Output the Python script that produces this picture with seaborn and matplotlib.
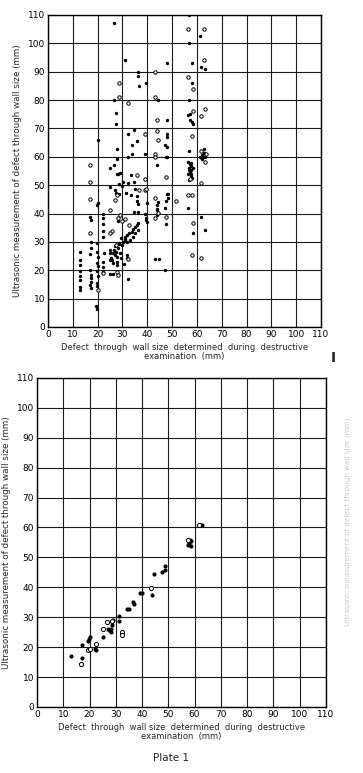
import numpy as np
import pandas as pd
import matplotlib.pyplot as plt
import seaborn as sns

# --- upper plot: all results (filled = one series, open = other) ---
top_filled_x = [26.7, 57.0, 61.3, 57.0, 30.9, 48.0, 58.2, 61.6, 63.4, 36.2, 36.4, 39.4, 36.5,
                58.2, 26.8, 44.2, 57.0, 27.4, 27.4, 48.1, 56.6, 57.2, 57.3, 57.9, 58.3,
                20.2, 32.1, 34.5, 35.9, 33.7, 27.9, 48.1, 48.1, 47.0, 47.8, 57.0,
                27.9, 32.1, 33.8, 39.2, 47.5, 48.1, 63.0, 61.3, 62.0, 62.8, 63.4, 62.2, 62.6,
                25.1, 26.8, 27.9, 28.3, 44.1, 33.3, 29.0,
                56.6, 57.2, 57.5, 56.8, 57.8, 57.2, 56.6, 57.5, 58.0, 57.0, 57.8, 58.3, 56.9, 57.6,
                25.1, 28.6, 27.0, 27.6, 28.6, 31.3, 33.5, 34.7, 32.4, 30.4, 36.0, 34.9, 29.8,
                19.9, 20.3, 35.8, 36.2, 39.8, 44.2, 44.1, 43.9, 47.0, 47.8, 48.3, 47.5, 48.2,
                56.6, 61.8, 63.2, 58.3, 47.2, 43.1, 44.6, 47.6, 44.0, 44.0,
                39.1, 39.3, 39.6, 39.8, 36.4, 34.5,
                13.1, 13.1, 13.1, 13.1, 13.1, 13.1, 13.1, 13.1,
                17.0, 17.2, 17.3, 17.5, 17.1, 17.0, 17.3, 17.2, 17.5, 17.0, 17.4,
                19.6, 19.8, 20.2, 19.7, 20.0, 19.9, 20.2, 19.6, 19.8, 19.5, 19.6,
                22.3, 22.1, 22.3, 22.2, 22.3, 22.4, 22.1, 22.3, 22.2,
                25.0, 25.3, 25.7, 26.3, 26.6, 27.0, 27.4, 27.7, 27.9, 28.3, 28.8, 29.0, 29.3,
                29.7, 30.4, 31.0, 31.7, 31.9, 26.1, 27.1, 28.0, 28.5,
                31.0, 32.0, 32.8, 33.7, 34.4, 35.1, 35.8, 36.2, 36.4, 33.1, 31.7, 34.2, 35.2,
                30.6, 32.3, 25.1, 26.3, 25.1, 25.1, 28.3, 30.9, 29.5]
top_filled_y = [107.2, 110.0, 102.6, 100.0, 94.0, 93.0, 93.0, 91.5, 91.0, 88.5, 90.0, 86.0, 85.0,
                86.0, 80.0, 80.0, 80.0, 75.4, 71.4, 73.0, 74.8, 75.0, 73.0, 72.2, 71.4,
                66.0, 68.0, 69.4, 65.5, 64.1, 62.6, 68.0, 67.0, 64.0, 63.3, 62.0,
                59.4, 60.1, 61.0, 61.0, 60.0, 60.0, 62.8, 60.0, 60.5, 61.2, 60.0, 59.3, 59.8,
                56.1, 57.0, 53.9, 54.1, 57.0, 53.5, 54.2,
                58.3, 57.5, 56.8, 56.0, 55.5, 54.8, 54.0, 53.3, 52.5, 51.8, 57.8, 56.2, 55.2, 53.9,
                49.4, 50.3, 48.2, 47.4, 47.0, 47.4, 46.5, 51.2, 50.6, 51.2, 46.1, 48.5, 49.8,
                43.0, 43.6, 44.5, 43.5, 43.8, 44.2, 43.0, 41.6, 42.0, 47.0, 45.5, 44.4, 46.8,
                42.0, 38.8, 34.1, 33.2, 20.0, 24.0, 24.0, 36.2, 41.3, 39.5,
                40.0, 38.3, 37.7, 37.0, 40.6, 40.6,
                26.6, 23.6, 21.9, 19.9, 18.1, 16.6, 14.2, 13.0,
                38.9, 37.7, 30.1, 27.8, 25.7, 20.1, 18.3, 17.2, 16.0, 14.8, 13.6,
                29.5, 26.6, 24.6, 22.6, 21.4, 19.6, 17.8, 15.5, 14.3, 7.4, 6.5,
                39.8, 38.3, 36.3, 34.0, 31.8, 26.0, 23.0, 21.3, 19.5,
                26.0, 24.2, 23.6, 26.0, 27.2, 25.4, 26.6, 24.8, 23.0, 27.8, 29.5, 26.0, 24.2,
                28.9, 30.1, 30.9, 24.2, 25.4, 22.5, 28.5, 22.0, 29.2,
                31.8, 32.4, 33.0, 33.6, 34.4, 35.4, 36.0, 36.8, 34.2, 30.7, 30.1, 31.8, 33.0,
                22.1, 16.8, 18.8, 18.6, 27.0, 23.5, 37.5, 30.2, 31.5]

top_open_x = [56.6, 63.0, 63.0, 43.0, 28.6, 56.6, 58.3, 28.6, 32.1, 43.1, 44.1, 58.3, 61.7,
              63.3, 39.2, 44.1, 44.2, 58.2, 43.0, 43.1, 61.6, 63.3, 63.5, 16.8, 47.4, 35.7,
              16.8, 39.2, 57.2, 61.7, 16.9, 27.7, 27.2, 36.8, 39.2, 43.1, 51.7, 56.6, 58.0,
              58.3, 58.2, 61.6, 47.4, 44.4, 43.1, 31.2, 32.8, 32.1, 17.0, 20.0, 25.0, 25.7,
              25.0, 28.3, 29.2, 30.0, 27.7, 28.3, 39.6, 22.2, 27.5]
top_open_y = [105.0, 105.0, 94.0, 90.0, 86.0, 88.0, 84.0, 81.0, 79.0, 81.0, 73.0, 76.0, 74.4,
              77.0, 68.0, 69.0, 66.0, 67.4, 61.0, 60.0, 62.1, 58.0, 61.0, 57.0, 53.0, 53.5,
              51.2, 52.0, 52.0, 50.6, 45.0, 46.5, 44.7, 48.2, 48.2, 45.3, 44.5, 46.5, 46.5,
              36.5, 25.4, 24.2, 38.8, 40.2, 38.6, 38.2, 35.9, 24.1, 33.0, 12.9, 41.3, 34.0,
              33.0, 38.5, 39.5, 37.2, 19.3, 18.5, 48.5, 19.0, 29.0]

# --- lower plot: selected results ---
bot_filled_x = [13.1, 17.0, 17.0, 19.5, 19.8, 20.0, 22.1, 22.5, 25.0, 27.0, 27.6, 28.0,
                28.2, 28.5, 28.9, 31.2, 31.4, 34.2, 35.0, 36.5, 36.8, 39.3, 40.1, 43.6,
                44.4, 47.5, 48.8, 48.8, 57.3, 57.9, 58.1, 58.5, 58.6, 62.0, 63.0]
bot_filled_y = [17.0, 20.8, 16.5, 22.2, 22.8, 23.3, 19.3, 18.9, 23.5, 26.1, 25.6, 25.0,
                26.1, 27.3, 29.0, 30.3, 28.6, 32.7, 32.7, 35.2, 34.3, 38.0, 38.0, 37.5,
                44.3, 45.0, 45.7, 47.0, 54.3, 54.9, 55.7, 53.8, 55.4, 61.0, 61.0]
bot_open_x = [16.9, 19.5, 20.2, 22.3, 25.0, 26.7, 28.6, 32.4, 32.4, 43.5, 57.5, 61.5]
bot_open_y = [14.5, 19.0, 19.3, 21.0, 26.1, 28.4, 28.6, 25.2, 23.9, 39.8, 55.9, 61.0]

ticks = list(range(0, 111, 10))
xlab = 'Defect  through  wall size  determined  during  destructive\nexamination  (mm)'
ylab = 'Ultrasonic measurement of defect through wall size (mm)'

sns.set_style('white')
plt.rcParams['font.family'] = ['DejaVu Sans']

fig = plt.figure(figsize=(3.63, 7.73), dpi=100)
ax1 = fig.add_axes([0.1322, 0.577, 0.752, 0.4036])
ax2 = fig.add_axes([0.1019, 0.0854, 0.796, 0.4257])


def draw(ax, fx, fy, ox, oy, s):
    sns.scatterplot(x=fx, y=fy, ax=ax, color='black', s=s, linewidth=0, zorder=3)
    sns.scatterplot(x=ox, y=oy, ax=ax, facecolor='white', edgecolor='black',
                    s=s, linewidth=0.7, zorder=4)
    ax.set_xlim(0, 110)
    ax.set_ylim(0, 110)
    ax.set_xticks(ticks)
    ax.set_yticks(ticks)
    ax.grid(True, color='#1a1a1a', linewidth=0.8)
    ax.set_axisbelow(True)
    for sp in ax.spines.values():
        sp.set_color('black')
        sp.set_linewidth(1.0)
    ax.tick_params(length=0, labelsize=6.5, pad=2, colors='black')
    ax.set_xlabel(xlab, fontsize=6, linespacing=1.0, labelpad=3)
    ax.set_ylabel(ylab, fontsize=6.3, labelpad=4)


draw(ax1, top_filled_x, top_filled_y, top_open_x, top_open_y, 6)
draw(ax2, bot_filled_x, bot_filled_y, bot_open_x, bot_open_y, 9)

fig.text(0.917, 0.537, 'I', fontsize=10, fontweight='bold', ha='center', va='center')
fig.text(0.958, 0.325, ylab, fontsize=5.2, rotation=90, color='#c8c8c8',
         ha='center', va='center')
fig.text(0.47, 0.019, 'Plate 1', fontsize=7.5, ha='center', va='center')

fig.savefig('out.png', dpi=100)
